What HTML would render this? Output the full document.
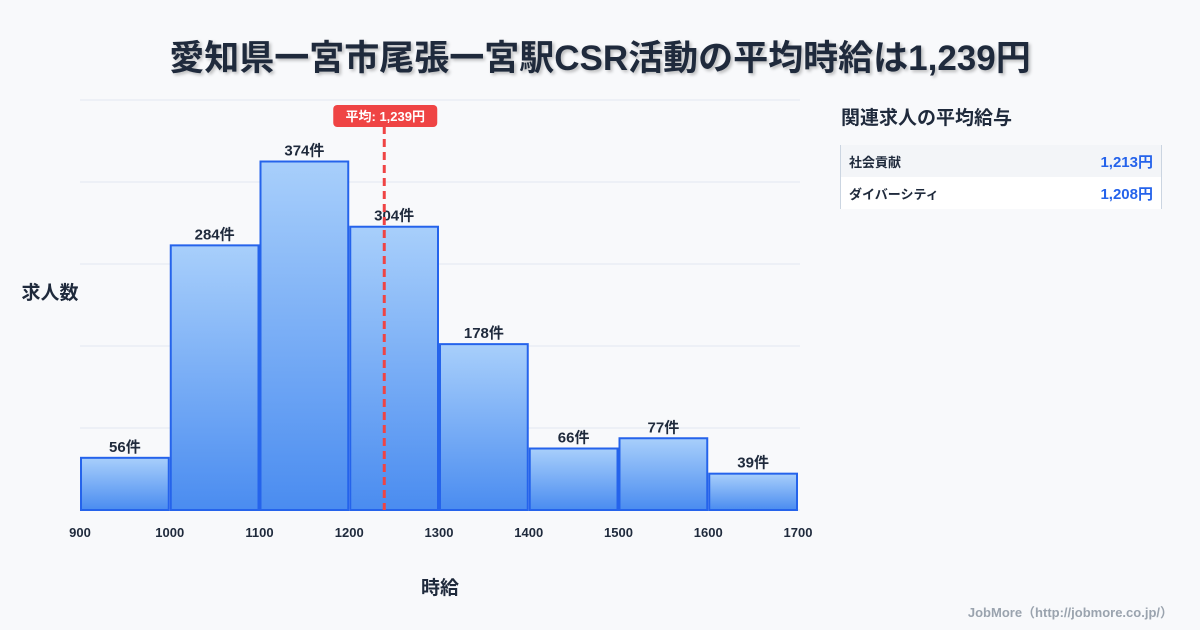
<!DOCTYPE html>
<html><head><meta charset="utf-8">
<style>
body{margin:0;width:1200px;height:630px;background:#f8f9fb;font-family:"Liberation Sans","Noto Sans CJK JP",sans-serif;overflow:hidden;position:relative}
#title{position:absolute;top:30px;left:0;width:1200px;text-align:center;font-size:35px;font-weight:bold;color:#1f2a3c;text-shadow:2px 2px 3px rgba(0,0,0,0.25)}
#side-title{position:absolute;left:841px;top:103px;font-size:19px;font-weight:bold;color:#1f2a3c}
#side-table{position:absolute;left:840px;top:145px;width:320px;border-left:1px solid #cbd5e1;border-right:1px solid #cbd5e1}
.row{height:32px;display:flex;justify-content:space-between;align-items:center;padding:0 8px;font-size:13px;font-weight:bold;color:#1f2a3c}
.row .v{color:#2563eb;font-size:15px}
#credit{position:absolute;right:27px;top:602px;font-size:13px;font-weight:bold;color:#9aa3ae}
</style></head><body>
<div id="title">愛知県一宮市尾張一宮駅CSR活動の平均時給は1,239円</div>
<svg id="chart" width="1200" height="630" style="position:absolute;left:0;top:0">
<defs><linearGradient id="g" x1="0" y1="0" x2="0" y2="1"><stop offset="0" stop-color="#a8cffb"/><stop offset="1" stop-color="#4a8cf0"/></linearGradient></defs>
</svg>
<div id="side-title">関連求人の平均給与</div>
<div id="side-table">
<div class="row" style="background:#f3f5f8"><span>社会貢献</span><span class="v">1,213円</span></div>
<div class="row" style="background:#fff"><span>ダイバーシティ</span><span class="v">1,208円</span></div>
</div>
<div id="credit">JobMore（http://jobmore.co.jp/）</div>
<script>
const binStarts=[900,1000,1100,1200,1300,1400,1500,1600];
const counts=[56,284,374,304,178,66,77,39];
const xTicks=[900,1000,1100,1200,1300,1400,1500,1600,1700];
const meanValue=1239;
const meanLabel="平均: 1,239円";
const svg=document.getElementById('chart');
const NS='http://www.w3.org/2000/svg';
const x=v=>80+(v-900)*(718/800);
const y=v=>510-v*(410/440);
function mk(t,a){const e=document.createElementNS(NS,t);for(const k in a)e.setAttribute(k,a[k]);svg.appendChild(e);return e;}
for(let i=0;i<=5;i++){const g=mk('line',{x1:80,x2:800,y1:y(i*88),y2:y(i*88),stroke:'#e2e8f0','stroke-width':1});

}
binStarts.forEach((b,i)=>{
const r=mk('rect',{x:x(b)+1,y:y(counts[i]),width:x(b+100)-x(b)-2,height:510-y(counts[i]),fill:'url(#g)',stroke:'#2563eb','stroke-width':2});


const t=mk('text',{x:(x(b)+x(b+100))/2,y:y(counts[i])-6,'text-anchor':'middle','font-size':15,'font-weight':'bold',fill:'#1f2a3c'});
t.textContent=counts[i]+'件';


});
xTicks.forEach(v=>{const t=mk('text',{x:x(v),y:537,'text-anchor':'middle','font-size':13,'font-weight':'bold',fill:'#1f2a3c'});t.textContent=v;

});
const ml=mk('line',{x1:x(meanValue),x2:x(meanValue),y1:126,y2:510,stroke:'#ef4444','stroke-width':3,'stroke-dasharray':'8,5'});


const mb=mk('rect',{x:x(meanValue)-51,y:105,width:104,height:22,rx:4,fill:'#ef4444'});


const mt=mk('text',{x:x(meanValue)+1,y:121,'text-anchor':'middle','font-size':13,'font-weight':'bold',fill:'#fff'});mt.textContent=meanLabel;


const yt=mk('text',{x:50,y:299,'text-anchor':'middle','font-size':19,'font-weight':'bold',fill:'#1f2a3c'});yt.textContent='求人数';


const xt=mk('text',{x:440,y:594,'text-anchor':'middle','font-size':19,'font-weight':'bold',fill:'#1f2a3c'});xt.textContent='時給';


</script>
</body></html>
